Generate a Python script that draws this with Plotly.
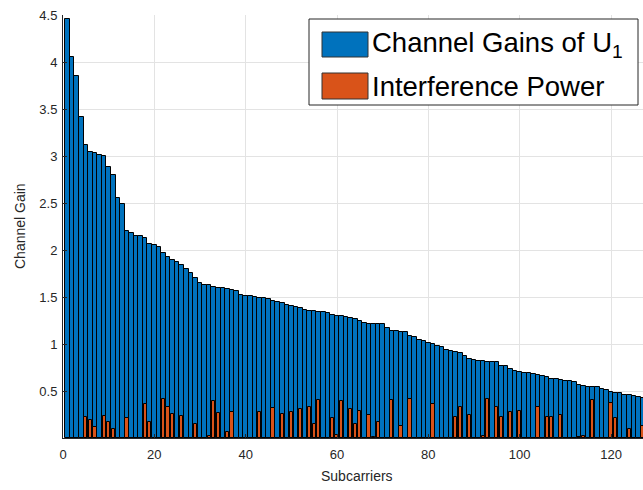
import plotly.graph_objects as go

# ---------------- data ----------------
subcarriers = list(range(1, 129))

channel_gain = [
    4.46, 4.05, 3.85, 3.41, 3.12, 3.04, 3.035, 3.01, 3.00, 2.88,
    2.80, 2.55, 2.49, 2.205, 2.184, 2.152, 2.149, 2.124, 2.06, 2.05,
    2.029, 1.968, 1.929, 1.89, 1.869, 1.837, 1.798, 1.752, 1.702, 1.646,
    1.631, 1.624, 1.61, 1.599, 1.592, 1.582, 1.571, 1.564, 1.525, 1.514,
    1.508, 1.50, 1.493, 1.486, 1.479, 1.457, 1.45, 1.433, 1.411, 1.401,
    1.39, 1.383, 1.365, 1.354, 1.348, 1.34, 1.337, 1.326, 1.309, 1.301,
    1.294, 1.287, 1.273, 1.262, 1.248, 1.227, 1.216, 1.213, 1.209, 1.209,
    1.174, 1.138, 1.135, 1.128, 1.124, 1.085, 1.071, 1.043, 1.028, 1.014,
    1.0, 0.982, 0.963, 0.935, 0.922, 0.911, 0.901, 0.869, 0.84, 0.83,
    0.822, 0.816, 0.812, 0.805, 0.805, 0.77, 0.766, 0.734, 0.713, 0.706,
    0.695, 0.688, 0.677, 0.667, 0.656, 0.645, 0.628, 0.624, 0.617, 0.606,
    0.603, 0.599, 0.567, 0.556, 0.546, 0.539, 0.539, 0.525, 0.511, 0.486,
    0.479, 0.475, 0.454, 0.454, 0.450, 0.433, 0.43, 0.42,
]

# interference power per subcarrier (subcarrier index -> value), zero elsewhere
interference_nonzero = {
    5: 0.226, 6: 0.19, 7: 0.117, 9: 0.233, 10: 0.167, 11: 0.099, 14: 0.21,
    18: 0.36, 19: 0.175, 22: 0.41, 23: 0.33, 24: 0.26, 26: 0.23, 29: 0.146,
    32: 0.02, 33: 0.395, 34: 0.27, 36: 0.063, 37: 0.272, 43: 0.277,
    46: 0.316, 48: 0.255, 50: 0.28, 52: 0.305, 54: 0.33, 55: 0.146,
    56: 0.40, 59: 0.21, 60: 0.033, 61: 0.39, 63: 0.31, 64: 0.146, 65: 0.29,
    67: 0.245, 68: 0.015, 69: 0.171, 72: 0.40, 74: 0.128, 76: 0.42,
    81: 0.365, 86: 0.227, 87: 0.333, 89: 0.24, 92: 0.02, 93: 0.41,
    95: 0.33, 96: 0.22, 98: 0.28, 100: 0.29, 104: 0.333, 106: 0.226,
    107: 0.226, 109: 0.25, 113: 0.012, 114: 0.02, 116: 0.40, 120: 0.37,
    121: 0.217, 124: 0.1, 127: 0.128,
}
interference = [interference_nonzero.get(k, 0.0) for k in subcarriers]

x_ticks = [0, 20, 40, 60, 80, 100, 120]
y_ticks = [0.5, 1, 1.5, 2, 2.5, 3, 3.5, 4, 4.5]
y_ticktext = ["0.5", "1", "1.5", "2", "2.5", "3", "3.5", "4", "4.5"]

series_names = ["Channel Gains of U<sub>1</sub>", "Interference Power"]
BLUE = "#0072BD"
ORANGE = "#D95319"

# ---------------- layout geometry ----------------
W, H = 643, 490
ML, MR, MT, MB = 63, 0, 15, 52
PW, PH = W - ML - MR, H - MT - MB


def px(x):
    return (x - ML) / PW


def py(y):
    return (H - MB - y) / PH


FONT = "Liberation Sans, Arial, Helvetica, sans-serif"
AXC = "#262626"

fig = go.Figure()
fig.add_trace(go.Bar(x=subcarriers, y=channel_gain, width=1.0,
                     marker=dict(color=BLUE, line=dict(color="black", width=1)),
                     name=series_names[0], showlegend=False))
fig.add_trace(go.Bar(x=subcarriers, y=interference, width=0.7,
                     marker=dict(color=ORANGE, line=dict(color="black", width=1)),
                     name=series_names[1], showlegend=False))

shapes = []
annotations = []
# legend box
shapes.append(dict(type="rect", xref="paper", yref="paper",
                   x0=px(309), x1=px(638), y0=py(105), y1=py(19),
                   line=dict(color=AXC, width=1), fillcolor="white", layer="above"))
for i, (c, y0, y1) in enumerate([(BLUE, 32, 57), (ORANGE, 73, 99)]):
    shapes.append(dict(type="rect", xref="paper", yref="paper",
                       x0=px(322), x1=px(368), y0=py(y1), y1=py(y0),
                       line=dict(color="#333333", width=1), fillcolor=c, layer="above"))
    annotations.append(dict(xref="paper", yref="paper", x=px(370), y=py((y0 + y1) / 2),
                            text=series_names[i], showarrow=False, xanchor="left",
                            yanchor="middle", font=dict(family=FONT, size=27.5, color="black")))

annotations.append(dict(xref="paper", yref="paper", x=px(357), y=py(476), text="Subcarriers",
                        showarrow=False, xanchor="center", yanchor="middle",
                        font=dict(family=FONT, size=14, color=AXC)))
annotations.append(dict(xref="paper", yref="paper", x=px(20), y=py(226), text="Channel Gain",
                        textangle=-90, showarrow=False, xanchor="center", yanchor="middle",
                        font=dict(family=FONT, size=14, color=AXC)))

fig.update_layout(
    width=W, height=H, margin=dict(l=ML, r=MR, t=MT, b=MB),
    paper_bgcolor="white", plot_bgcolor="white",
    barmode="overlay", bargap=0,
    font=dict(family=FONT, size=13, color=AXC),
    shapes=shapes, annotations=annotations,
    xaxis=dict(range=[0, 127], tickvals=x_ticks, ticks="inside", ticklen=4,
               tickcolor=AXC, showline=True, linecolor=AXC, linewidth=1,
               showgrid=True, gridcolor="#e3e3e3", gridwidth=1, zeroline=False,
               tickfont=dict(size=13, color=AXC), ticklabelstandoff=4),
    yaxis=dict(range=[0, 4.5], tickvals=y_ticks, ticktext=y_ticktext, ticks="inside",
               ticklen=4, tickcolor=AXC, showline=True, linecolor=AXC, linewidth=1,
               showgrid=True, gridcolor="#e3e3e3", gridwidth=1, zeroline=False,
               tickfont=dict(size=13, color=AXC), ticklabelstandoff=2),
)

fig.write_html("out.html")
